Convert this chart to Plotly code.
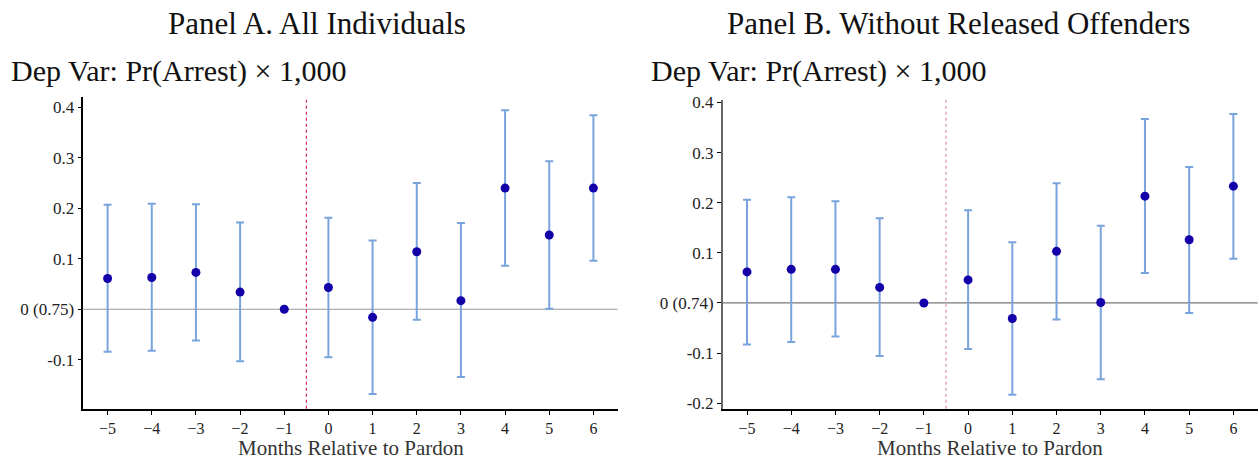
import plotly.graph_objects as go

months = [-5, -4, -3, -2, -1, 0, 1, 2, 3, 4, 5, 6]
month_labels = ["\u22125", "\u22124", "\u22123", "\u22122", "\u22121", "0", "1", "2", "3", "4", "5", "6"]

# Panel A: All Individuals
coef_a = [0.061, 0.063, 0.073, 0.034, 0.0, 0.043, -0.016, 0.114, 0.017, 0.240, 0.147, 0.240]
hi_a = [0.207, 0.209, 0.208, 0.172, 0.0, 0.181, 0.136, 0.250, 0.171, 0.394, 0.293, 0.384]
lo_a = [-0.084, -0.082, -0.062, -0.103, 0.0, -0.095, -0.168, -0.021, -0.134, 0.086, 0.001, 0.096]

# Panel B: Without Released Offenders
coef_b = [0.062, 0.067, 0.067, 0.031, 0.0, 0.046, -0.031, 0.103, 0.001, 0.213, 0.126, 0.233]
hi_b = [0.206, 0.211, 0.203, 0.169, 0.0, 0.185, 0.121, 0.239, 0.154, 0.367, 0.271, 0.377]
lo_b = [-0.083, -0.078, -0.067, -0.106, 0.0, -0.092, -0.183, -0.033, -0.152, 0.060, -0.020, 0.088]

ytick_a = [-0.1, 0.0, 0.1, 0.2, 0.3, 0.4]
ytext_a = ["-0.1", "0 (0.75)", "0.1", "0.2", "0.3", "0.4"]
ytick_b = [-0.2, -0.1, 0.0, 0.1, 0.2, 0.3, 0.4]
ytext_b = ["-0.2", "-0.1", "0 (0.74)", "0.1", "0.2", "0.3", "0.4"]

titles = ["Panel A. All Individuals", "Panel B. Without Released Offenders"]
subtitle = "Dep Var: Pr(Arrest) \u00d7 1,000"
xtitle = "Months Relative to Pardon"

W, H = 1259, 460
FONT = "Liberation Serif"
MARKER = "#1400a8"
ERR = "#79a3dc"

fig = go.Figure()

def add_panel(coef, hi, lo, xa, ya):
    fig.add_trace(go.Scatter(
        x=months, y=coef, mode="markers",
        marker=dict(color=MARKER, size=9),
        error_y=dict(type="data", symmetric=False,
                     array=[h - c for h, c in zip(hi, coef)],
                     arrayminus=[c - l for c, l in zip(coef, lo)],
                     color=ERR, thickness=2, width=4),
        xaxis=xa, yaxis=ya, showlegend=False, hoverinfo="x+y"))

add_panel(coef_a, hi_a, lo_a, "x", "y")
add_panel(coef_b, hi_b, lo_b, "x2", "y2")

ybot = (H - 411.7) / H
common_x = dict(tickmode="array", tickvals=months, ticktext=month_labels,
                range=[-5.55, 6.55], showgrid=False, zeroline=False,
                showline=True, linecolor="black", linewidth=1.5,
                ticks="outside", ticklen=4, tickcolor="black",
                tickfont=dict(family=FONT, size=16, color="#222"))
common_y = dict(tickmode="array", showgrid=False, zeroline=False,
                showline=True, linewidth=1.5,
                ticks="outside", ticklen=4, tickcolor="black",
                tickfont=dict(family=FONT, size=17, color="#222"))

fig.update_layout(
    width=W, height=H,
    margin=dict(l=0, r=0, t=0, b=0),
    paper_bgcolor="white", plot_bgcolor="white",
    xaxis=dict(domain=[83.3 / W, 617.7 / W], anchor="y", **common_x),
    yaxis=dict(domain=[ybot, (H - 92.7) / H], anchor="x", range=[-0.197, 0.421],
               tickvals=ytick_a, ticktext=ytext_a, linecolor="black", **common_y),
    xaxis2=dict(domain=[722.7 / W, 1257.7 / W], anchor="y2", **common_x),
    yaxis2=dict(domain=[ybot, (H - 96) / H], anchor="x2", range=[-0.211, 0.405],
                tickvals=ytick_b, ticktext=ytext_b, linecolor="#666", **common_y),
)

# zero lines and event line
for xa, ya, zc, rc in [("x", "y", "#999999", "#cc0033"), ("x2", "y2", "#777777", "#d97a8e")]:
    fig.add_shape(type="line", xref=f"{xa} domain", yref=ya, x0=0, x1=1, y0=0, y1=0,
                  line=dict(color=zc, width=1.2), layer="below")
    fig.add_shape(type="line", xref=xa, yref=f"{ya} domain", x0=-0.5, x1=-0.5, y0=0, y1=1,
                  line=dict(color=rc, width=1, dash="dot"), layer="below")

# x-axis titles (annotations, positioned under each axis)
for cx in [(83.3 + 617.7) / 2, (722.7 + 1257.7) / 2]:
    fig.add_annotation(x=cx / W, y=1 - 452 / H, xref="paper", yref="paper", text=xtitle,
                       showarrow=False, xanchor="center", yanchor="middle",
                       font=dict(family=FONT, size=21, color="#333"))

# titles
for cx, t in [(317, titles[0]), (958, titles[1])]:
    fig.add_annotation(x=cx / W, y=1 - 18 / H, xref="paper", yref="paper", text=t,
                       showarrow=False, xanchor="center", yanchor="middle",
                       font=dict(family=FONT, size=31, color="#111"))
for lx in [9, 649]:
    fig.add_annotation(x=lx / W, y=1 - 66 / H, xref="paper", yref="paper", text=subtitle,
                       showarrow=False, xanchor="left", yanchor="middle",
                       font=dict(family=FONT, size=30, color="#111"))

fig.write_html("out.html")
